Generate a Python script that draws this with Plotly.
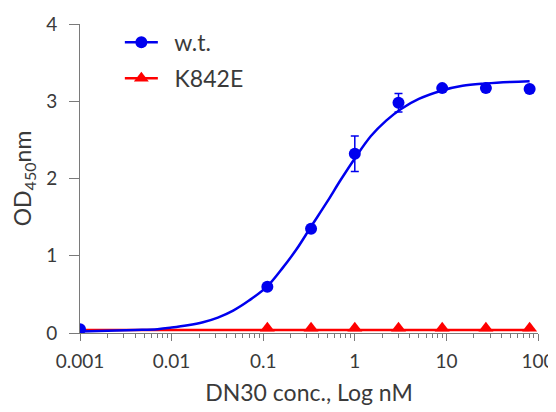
import plotly.graph_objects as go

# Data
conc = [0.001, 0.111, 0.333, 1.0, 3.0, 9.0, 27.0, 81.0]
wt_od = [0.05, 0.60, 1.35, 2.32, 2.98, 3.17, 3.17, 3.16]
wt_err = [0.0, 0.0, 0.0, 0.23, 0.12, 0.0, 0.0, 0.0]
mut_conc = [0.111, 0.333, 1.0, 3.0, 9.0, 27.0, 81.0]
mut_od = [0.06, 0.06, 0.06, 0.06, 0.06, 0.06, 0.06]

# Fitted curves
wt_fit_x = [0.001, 0.002, 0.004, 0.007, 0.01, 0.015, 0.022, 0.032, 0.047, 0.07, 0.11,
            0.16, 0.23, 0.33, 0.5, 0.7, 1.0, 1.5, 2.2, 3.2, 5.0, 9.0, 15.0, 27.0, 50.0, 81.0]
wt_fit_y = [0.02, 0.03, 0.04, 0.05, 0.07, 0.10, 0.14, 0.20, 0.29, 0.42, 0.60,
            0.83, 1.08, 1.37, 1.70, 1.98, 2.26, 2.55, 2.75, 2.90, 3.03, 3.14, 3.20, 3.23, 3.25, 3.26]
mut_fit_x = [0.001, 81.0]
mut_fit_y = [0.04, 0.04]

y_ticks = [0, 1, 2, 3, 4]

BLUE = "#0000ee"
RED = "#ff0000"
FONT = "Lato"
TXT = "#3a3a3a"
AX = "#7a7a7a"
NB = "\u00a0\u00a0"

fig = go.Figure()
fig.add_trace(go.Scatter(x=mut_fit_x, y=mut_fit_y, mode="lines",
                         line=dict(color=RED, width=2.5), showlegend=False, hoverinfo="skip"))
fig.add_trace(go.Scatter(x=wt_fit_x, y=wt_fit_y, mode="lines", line_shape="spline",
                         line=dict(color=BLUE, width=2.5), showlegend=False, hoverinfo="skip"))
fig.add_trace(go.Scatter(x=conc, y=wt_od, mode="markers",
                         marker=dict(color=BLUE, size=12, symbol="circle"),
                         error_y=dict(type="data", array=wt_err, color=BLUE, thickness=1.5, width=4),
                         showlegend=False))
fig.add_trace(go.Scatter(x=mut_conc, y=mut_od, mode="markers",
                         marker=dict(color=RED, size=13, symbol="triangle-up"),
                         showlegend=False))
# legend entries
fig.add_trace(go.Scatter(x=[None], y=[None], mode="lines+markers", name=NB + "w.t.", legendgroup="a",
                         line=dict(color=BLUE, width=2.5), marker=dict(color=BLUE, size=12, symbol="circle")))
fig.add_trace(go.Scatter(x=[None], y=[None], mode="lines+markers", name=NB + "K842E", legendgroup="b",
                         line=dict(color=RED, width=2.5), marker=dict(color=RED, size=13, symbol="triangle-up")))

fig.update_layout(
    width=556, height=412,
    margin=dict(l=72, r=26, t=16, b=87, autoexpand=False),
    paper_bgcolor="white", plot_bgcolor="white",
    font=dict(family=FONT, color=TXT, size=19),
    legend=dict(x=0.087, y=1.01, xanchor="left", yanchor="top", bgcolor="rgba(0,0,0,0)",
                font=dict(size=23, color=TXT), tracegroupgap=3, itemwidth=33),
    xaxis=dict(type="log", range=[-3, 2], tickmode="linear", tick0=0, dtick=1,
               showline=True, linecolor=AX, linewidth=1, ticks="outside", ticklen=7, tickwidth=1,
               tickcolor=AX, showgrid=False, zeroline=False, ticklabelstandoff=4, automargin=False,
               minor=dict(dtick="D1", ticks="outside", ticklen=4, tickwidth=1, tickcolor=AX, showgrid=False),
               title=dict(text="DN30 conc., Log nM", font=dict(size=23, color=TXT), standoff=14),
               tickfont=dict(size=19, color=TXT)),
    yaxis=dict(range=[0, 4], tickvals=y_ticks, showline=True, linecolor=AX, linewidth=1,
               ticks="outside", ticklen=10, tickwidth=1, tickcolor=AX, showgrid=False, zeroline=False,
               ticklabelstandoff=8, automargin=False,
               title=dict(text="OD<sub>450</sub>nm", font=dict(size=23, color=TXT), standoff=30),
               tickfont=dict(size=19, color=TXT)),
)

fig.write_html("out.html")
